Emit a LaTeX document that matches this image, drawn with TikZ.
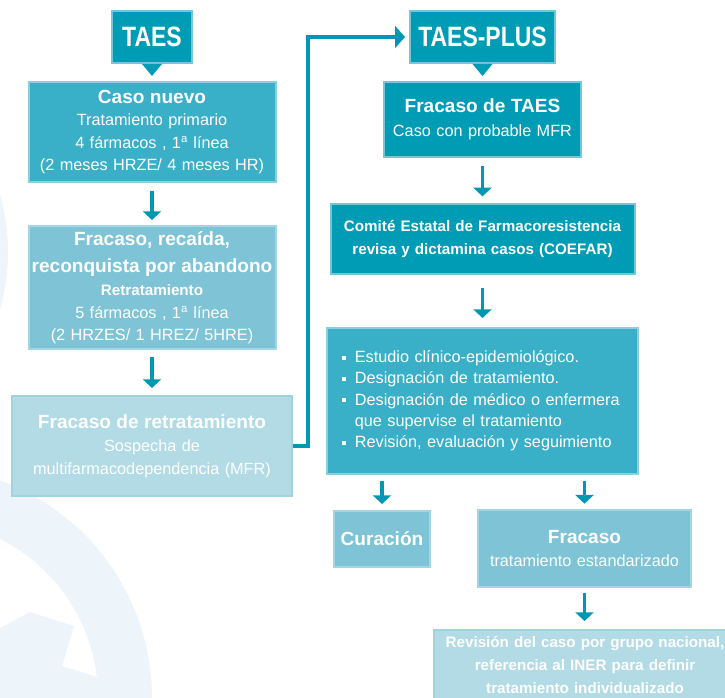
\documentclass[tikz,border=0pt]{standalone}
\usepackage{fontspec}
\setmainfont{Liberation Sans}
\newfontfamily\condfont{Liberation Sans}[FakeStretch=0.82]
\usepackage{tikz}
\usetikzlibrary{arrows.meta, positioning, calc}
\definecolor{tealdark}{RGB}{0,156,181}
\definecolor{tealmid}{RGB}{57,176,200}
\definecolor{teallight}{RGB}{126,196,214}
\definecolor{tealpale}{RGB}{178,219,230}
\definecolor{bdrdark}{RGB}{118,198,216}
\definecolor{bdrmid}{RGB}{140,206,222}
\definecolor{bdrlight}{RGB}{163,213,227}
\definecolor{bdrpale}{RGB}{160,211,225}
\definecolor{linecol}{RGB}{0,151,178}
\definecolor{wmark}{RGB}{237,245,250}
\newcommand{\regfont}{\fontsize{12.2}{16.9}\selectfont}
\newcommand{\boxtitle}{\fontsize{14.3}{20}\selectfont\bfseries}
\newcommand{\smallbold}{\fontsize{11.4}{16.9}\selectfont\bfseries}
\newcommand{\sqitem}{\makebox[9.75pt][l]{\rule[2.3pt]{3pt}{3pt}}}
\newcommand{\sqindent}{\makebox[9.75pt][l]{}}
\tikzset{
  hdrbox/.style={rectangle, draw=bdrdark, fill=tealdark, text=white,
    line width=1.5pt, inner sep=0pt,
    font=\condfont\bfseries\fontsize{21}{24}\selectfont},
  darkbox/.style={rectangle, draw=bdrdark, fill=tealdark, text=white,
    align=center, inner sep=2pt, line width=1.5pt, font=\regfont},
  midbox/.style={rectangle, draw=bdrmid, fill=tealmid, text=white,
    align=center, inner sep=2pt, line width=1.5pt, font=\regfont},
  lightbox/.style={rectangle, draw=bdrlight, fill=teallight, text=white,
    align=center, inner sep=2pt, line width=1.5pt, font=\regfont},
  palebox/.style={rectangle, draw=bdrpale, fill=tealpale, text=white,
    align=center, inner sep=2pt, line width=1.5pt, font=\regfont},
  arrow/.style={-{Triangle[width=13.5pt,length=6.5pt]}, line width=2.4pt, draw=linecol},
  barrow/.style={-{Triangle[width=16.5pt,length=7.5pt]}, line width=2.4pt, draw=linecol}
}
\begin{document}
\begin{tikzpicture}[x=0.75pt, y=-0.75pt]
  \useasboundingbox (0,0) rectangle (725,698);
  \clip (0,0) rectangle (725,698);
  % watermark
  \fill[wmark, even odd rule] (-80,698) circle[radius=232] (-80,698) circle[radius=178];
  \fill[wmark] (0,628) -- (30,612) -- (74,626) -- (62,666) -- (100,678) -- (100,700) -- (0,700) -- cycle;
  \fill[wmark] (-200,252) circle[radius=208];
  % TAES column
  \node[hdrbox, minimum width=60pt, minimum height=39pt] (taes) at (152,37) {TAES};
  \node[midbox, below=12.75pt of taes, minimum width=185.25pt, minimum height=75pt, text width=181pt] (caso)
    {{\boxtitle Caso nuevo}\\ Tratamiento primario\\ 4 fármacos , 1\textsuperscript{a} línea\\ (2 meses HRZE/ 4 meses HR)};
  \node[lightbox, below=31.5pt of caso, minimum width=185.25pt, minimum height=92.25pt, text width=181pt] (recaida)
    {{\boxtitle Fracaso, recaída,}\\[4pt] {\boxtitle reconquista por abandono}\\ {\smallbold Retratamiento}\\ 5 fármacos , 1\textsuperscript{a} línea\\ (2 HRZES/ 1 HREZ/ 5HRE)};
  \node[palebox, below=33.75pt of recaida, minimum width=210pt, minimum height=75pt, text width=206pt] (retrat)
    {{\boxtitle Fracaso de retratamiento}\\[1pt] Sospecha de\\ multifarmacodependencia (MFR)};
  % TAES-PLUS column
  \node[hdrbox, minimum width=108.75pt, minimum height=39pt] (plus) at (482.5,37) {TAES-PLUS};
  \node[darkbox, below=12.75pt of plus, minimum width=147.75pt, minimum height=56.25pt, text width=143pt] (ftaes)
    {{\boxtitle Fracaso de TAES}\\[1pt] Caso con probable MFR};
  \node[darkbox, below=33.75pt of ftaes, minimum width=228pt, minimum height=52.5pt, text width=224pt, font=\smallbold] (comite)
    {Comité Estatal de Farmacoresistencia\\ revisa y dictamina casos (COEFAR)};
  \node[midbox, below=39pt of comite, align=left, minimum width=233.25pt, minimum height=109.5pt,
    inner xsep=11pt, text width=211pt, font=\fontsize{12.2}{16}\selectfont] (bullets)
    {\sqitem Estudio clínico-epidemiológico.\\
     \sqitem Designación de tratamiento.\\
     \sqitem Designación de médico o enfermera\\
     \sqindent que supervise el tratamiento\\
     \sqitem Revisión, evaluación y seguimiento\\[-6pt]};
  \node[lightbox, minimum width=72pt, minimum height=42pt, font=\boxtitle] (curacion) at (382,539) {Curación};
  \node[lightbox, minimum width=159.75pt, minimum height=57.75pt, text width=155pt] (fracaso) at (584.5,548.5)
    {{\boxtitle Fracaso}\\[1pt] tratamiento estandarizado};
  \node[palebox, minimum width=226.5pt, minimum height=52.5pt, text width=222pt, font=\smallbold] (revision) at (585,665)
    {Revisión del caso por grupo nacional,\\ referencia al INER para definir\\ tratamiento individualizado};
  % pointers under headers
  \fill[tealdark] ($(taes.south)+(-7.5pt,0)$) -- ++(15pt,0) -- ++(-7.5pt,-9pt) -- cycle;
  \fill[tealdark] ($(plus.south)+(-7.5pt,0)$) -- ++(15pt,0) -- ++(-7.5pt,-9pt) -- cycle;
  % Connections
  \draw[arrow, shorten <=6pt, shorten >=3.75pt] (caso.south) -- (recaida.north);
  \draw[arrow, shorten <=5.25pt, shorten >=5.25pt] (recaida.south) -- (retrat.north);
  \draw[barrow, shorten >=3pt] (retrat.east) -- ++(15,0) |- (plus.west);
  \draw[arrow, shorten <=6pt, shorten >=5pt] (ftaes.south) -- (comite.north);
  \draw[arrow, shorten <=9.75pt, shorten >=6.75pt] (comite.south) -- (bullets.north);
  \draw[arrow, shorten <=4.5pt, shorten >=4.5pt] (curacion.north |- bullets.south) -- (curacion.north);
  \draw[arrow, shorten <=4.5pt, shorten >=4pt] (fracaso.north |- bullets.south) -- (fracaso.north);
  \draw[arrow, shorten <=3.75pt, shorten >=6pt] (fracaso.south) -- (fracaso.south |- revision.north);
\end{tikzpicture}
\end{document}
